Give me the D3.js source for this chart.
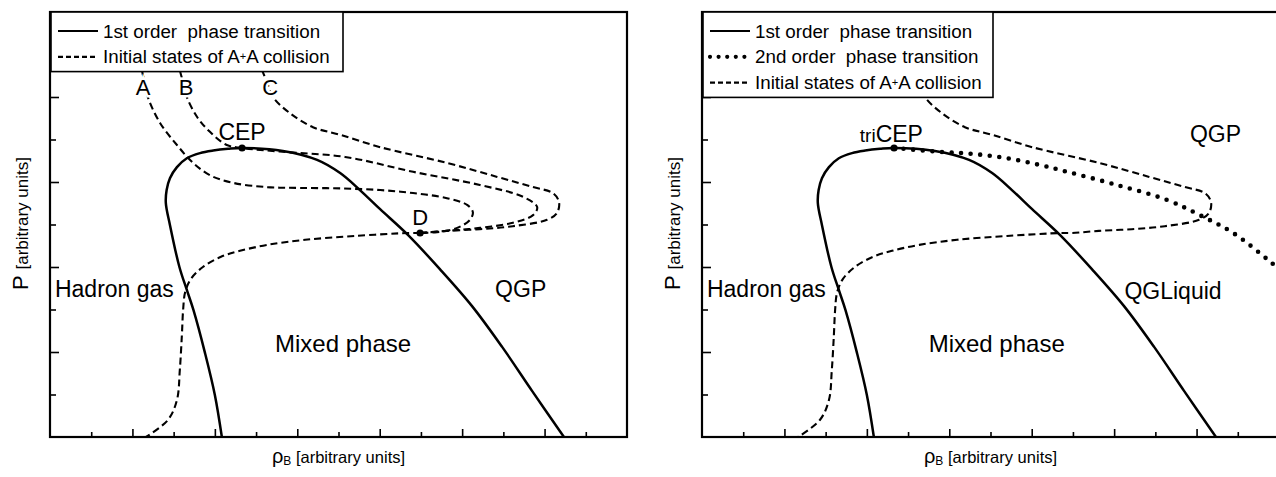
<!DOCTYPE html>
<html>
<head>
<meta charset="utf-8">
<script src="https://cdn.jsdelivr.net/npm/d3@7"></script>
<style>
  html, body { margin: 0; padding: 0; background: #fff; }
  svg { display: block; font-family: Arial, "Liberation Sans", Helvetica, sans-serif; }
</style>
</head>
<body>
<svg id="chart" width="1276" height="477"></svg>
<script>
// Schematic QCD phase diagrams: pressure P vs baryon density rho_B (arbitrary units)

// axis tick values (no numeric labels are shown)
const xMajorTicks = [2, 4, 6, 8, 10, 12];
const xMinorTicks = [1, 3, 5, 7, 9, 11, 13];
const yMajorTicks = [2, 4, 6, 8];
const yMinorTicks = [1, 3, 5, 7, 9];

// 1st order phase transition boundary [rho_B, P]
const firstOrderLine = [
  [4.17, 0.00], [4.00, 0.99], [3.76, 1.98], [3.48, 2.99], [3.32, 3.46],
  [3.14, 4.00], [2.91, 4.99], [2.81, 5.51], [2.83, 5.81], [2.91, 6.09],
  [3.08, 6.35], [3.32, 6.56], [3.64, 6.68], [3.96, 6.74], [4.32, 6.78],
  [4.66, 6.80], [5.65, 6.73], [6.48, 6.52], [7.04, 6.21], [7.52, 5.81],
  [8.01, 5.36], [8.69, 4.75], [9.46, 3.95], [10.24, 3.08], [10.97, 2.12],
  [11.70, 1.08], [12.47, 0.00]
];

// 2nd order phase transition continuing from the tricritical point
const secondOrderLine = [
  [4.66, 6.80], [5.78, 6.71], [6.58, 6.66], [7.40, 6.56], [8.20, 6.40],
  [8.86, 6.24], [10.07, 5.93], [11.28, 5.58], [12.08, 5.22], [12.89, 4.80],
  [13.83, 4.09], [14.30, 3.70]
];

// initial-state trajectories of A+A collisions, ending at point D
const trajectoryA = [
  [2.21, 8.87], [2.23, 8.64], [2.31, 8.28], [2.38, 7.98], [2.67, 7.39],
  [3.08, 6.87], [3.45, 6.47], [3.88, 6.16], [4.44, 5.98], [5.27, 5.88],
  [6.07, 5.86], [7.04, 5.85], [8.01, 5.81], [8.81, 5.74], [9.63, 5.62],
  [10.12, 5.46], [10.26, 5.29], [10.19, 5.11], [9.88, 4.92], [9.39, 4.82],
  [8.98, 4.80]
];
const trajectoryB = [
  [3.13, 8.87], [3.15, 8.64], [3.25, 8.28], [3.32, 8.00], [3.57, 7.53],
  [3.88, 7.18], [4.29, 6.87], [4.66, 6.80], [5.65, 6.71], [7.16, 6.59],
  [8.81, 6.24], [10.43, 5.93], [11.48, 5.65], [11.82, 5.41], [11.72, 5.22],
  [11.23, 5.04], [10.43, 4.92], [9.63, 4.85], [8.98, 4.80]
];
const trajectoryC = [
  [5.02, 8.87], [5.14, 8.64], [5.27, 8.33], [5.41, 8.00], [5.82, 7.62],
  [6.38, 7.29], [7.04, 7.11], [8.01, 6.82], [9.63, 6.45], [10.85, 6.12],
  [11.72, 5.88], [12.20, 5.74], [12.35, 5.53], [12.30, 5.27], [12.06, 5.11],
  [11.23, 4.96], [10.43, 4.89], [9.63, 4.85], [8.98, 4.80]
];
// common branch from D down into the hadron gas
const returnBranch = [
  [8.98, 4.80], [8.69, 4.80], [7.40, 4.73], [6.19, 4.64], [5.27, 4.52],
  [4.61, 4.38], [4.15, 4.24], [3.71, 4.00], [3.42, 3.72], [3.28, 3.41],
  [3.23, 2.99], [3.20, 2.40], [3.15, 1.58], [3.08, 0.87], [2.86, 0.40],
  [2.33, 0.00]
];

const criticalPoint = [4.66, 6.80];
const pointD = [8.98, 4.80];

const legendLeft = [
  { label: "1st order  phase transition", style: "solid" },
  { label: "Initial states of A+A collision", style: "dashed" }
];
const legendRight = [
  { label: "1st order  phase transition", style: "solid" },
  { label: "2nd order  phase transition", style: "dotted" },
  { label: "Initial states of A+A collision", style: "dashed" }
];

const svg = d3.select("#chart");
const W = 577, H = 425, TOP = 12;
const x = d3.scaleLinear().domain([0, 14]).range([0, W]);
const y = d3.scaleLinear().domain([0, 10]).range([H, 0]);
const line = d3.line().x(d => x(d[0])).y(d => y(d[1])).curve(d3.curveCatmullRom.alpha(0.5));

const styles = {
  solid:  { width: 2.5, dash: null, cap: "butt" },
  dashed: { width: 2.1, dash: "7,4", cap: "butt" },
  dotted: { width: 4.6, dash: "0,9.6", cap: "round" }
};

function drawCurve(g, data, kind) {
  const s = styles[kind];
  g.append("path").attr("d", line(data))
    .attr("fill", "none").attr("stroke", "#000")
    .attr("stroke-width", s.width)
    .attr("stroke-dasharray", s.dash)
    .attr("stroke-linecap", s.cap)
    .attr("stroke-linejoin", "round");
}

function drawPanel(left, id, opts) {
  const g = svg.append("g").attr("transform", `translate(${left},${TOP})`);
  g.append("clipPath").attr("id", "clip-" + id)
    .append("rect").attr("x", 0).attr("y", 0).attr("width", W).attr("height", H);
  const plot = g.append("g").attr("clip-path", `url(#clip-${id})`);

  opts.dashed.forEach(d => drawCurve(plot, d, "dashed"));
  drawCurve(plot, firstOrderLine, "solid");
  if (opts.dotted) drawCurve(plot, secondOrderLine, "dotted");
  opts.points.forEach(p => {
    plot.append("circle").attr("cx", x(p[0])).attr("cy", y(p[1])).attr("r", 3.6).attr("fill", "#000");
  });

  // inward ticks, major and minor
  const axes = [
    { ax: d3.axisBottom(x).tickValues(xMajorTicks).tickSize(-8), t: `translate(0,${H})` },
    { ax: d3.axisBottom(x).tickValues(xMinorTicks).tickSize(-5), t: `translate(0,${H})` },
    { ax: d3.axisLeft(y).tickValues(yMajorTicks).tickSize(-9), t: null },
    { ax: d3.axisLeft(y).tickValues(yMinorTicks).tickSize(-6), t: null }
  ];
  axes.forEach(a => {
    const ag = g.append("g").attr("transform", a.t).call(a.ax.tickFormat(""));
    ag.select(".domain").remove();
    ag.selectAll("line").attr("stroke", "#000").attr("stroke-width", 1.6);
  });

  g.append("rect").attr("x", 0).attr("y", 0).attr("width", W).attr("height", H)
    .attr("fill", "none").attr("stroke", "#000").attr("stroke-width", 2.2);

  // axis titles
  const yt = g.append("text")
    .attr("transform", `translate(-22,${y(5) - 1}) rotate(-90)`)
    .attr("text-anchor", "middle").attr("fill", "#000");
  yt.append("tspan").attr("font-size", 22).text("P ");
  yt.append("tspan").attr("font-size", 17).text("[arbitrary units]");

  const xt = g.append("text")
    .attr("x", W / 2).attr("y", H + 26)
    .attr("text-anchor", "middle").attr("fill", "#000");
  xt.append("tspan").attr("font-size", 20).text("\u03c1");
  xt.append("tspan").attr("font-size", 12).attr("dy", 2).text("B");
  xt.append("tspan").attr("font-size", 16.5).attr("dy", -2).text(" [arbitrary units]");

  // legend
  const lg = g.append("g").attr("transform", "translate(1,0)");
  lg.append("rect").attr("x", 0).attr("y", 0)
    .attr("width", opts.legendWidth).attr("height", opts.legend.length * 25.8 + 8)
    .attr("fill", "#fff").attr("stroke", "#000").attr("stroke-width", 1.6);
  opts.legend.forEach((item, i) => {
    const cy = 19 + i * 25.8;
    const s = styles[item.style];
    lg.append("line").attr("x1", 7).attr("x2", 47).attr("y1", cy).attr("y2", cy)
      .attr("stroke", "#000")
      .attr("stroke-width", item.style === "dotted" ? 4.2 : 2.2)
      .attr("stroke-dasharray", item.style === "dashed" ? "5,3" : (item.style === "dotted" ? "0,8.6" : null))
      .attr("stroke-linecap", s.cap);
    const t = lg.append("text").attr("x", 52).attr("y", cy + 6.6)
      .attr("font-size", 18.8).attr("fill", "#000").style("white-space", "pre");
    const parts = item.label.split("+");
    if (parts.length === 2) {
      t.append("tspan").text(parts[0]);
      t.append("tspan").attr("font-size", 11).attr("dy", -3).text("+");
      t.append("tspan").attr("dy", 3).text(parts[1]);
    } else {
      t.text(item.label);
    }
  });

  // region and point labels
  opts.labels.forEach(l => {
    const t = g.append("text")
      .attr("x", x(l.at[0])).attr("y", y(l.at[1]))
      .attr("text-anchor", l.anchor || "start")
      .attr("font-size", l.size || 23).attr("fill", "#000");
    if (l.halo) {
      t.attr("stroke", "#fff").attr("stroke-width", 5).style("paint-order", "stroke");
    }
    if (l.small) {
      t.append("tspan").attr("font-size", 19).text(l.small);
      t.append("tspan").text(l.text);
    } else {
      t.text(l.text);
    }
  });
}

drawPanel(50, "a", {
  dashed: [trajectoryA, trajectoryB, trajectoryC, returnBranch],
  dotted: false,
  points: [criticalPoint, pointD],
  legend: legendLeft,
  legendWidth: 292,
  labels: [
    { text: "A", at: [2.26, 8.05], anchor: "middle", size: 22, halo: true },
    { text: "B", at: [3.30, 8.05], anchor: "middle", size: 22, halo: true },
    { text: "C", at: [5.34, 8.05], anchor: "middle", size: 22, halo: true },
    { text: "CEP", at: [4.66, 6.99], anchor: "middle" },
    { text: "D", at: [8.98, 4.99], anchor: "middle", size: 22 },
    { text: "QGP", at: [10.80, 3.29] },
    { text: "Mixed phase", at: [5.46, 2.00], size: 24 },
    { text: "Hadron gas", at: [0.12, 3.29] }
  ]
});

drawPanel(702, "b", {
  dashed: [trajectoryC.concat(returnBranch.slice(1))],
  dotted: true,
  points: [criticalPoint],
  legend: legendRight,
  legendWidth: 290,
  labels: [
    { text: "CEP", small: "tri", at: [3.83, 6.94] },
    { text: "QGP", at: [11.84, 6.94] },
    { text: "QGLiquid", at: [10.25, 3.25] },
    { text: "Mixed phase", at: [5.50, 2.00], size: 24 },
    { text: "Hadron gas", at: [0.12, 3.29] }
  ]
});
</script>
</body>
</html>
